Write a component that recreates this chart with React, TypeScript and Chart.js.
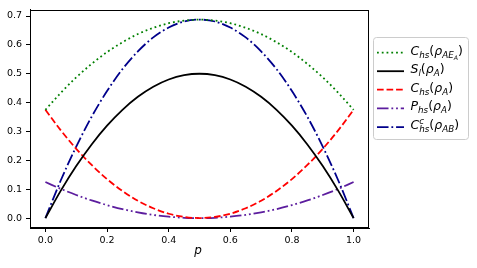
import { useEffect, useRef } from "react";
import { Chart, registerables } from "chart.js";

Chart.register(...registerables);

const pValues = [0, 0.05, 0.1, 0.15, 0.2, 0.25, 0.3, 0.35, 0.4, 0.45, 0.5, 0.55, 0.6, 0.65, 0.7, 0.75, 0.8, 0.85, 0.9, 0.95, 1.0];
const chsAEA = [0.375, 0.434, 0.4875, 0.534, 0.575, 0.609, 0.6375, 0.659, 0.675, 0.684, 0.6875, 0.684, 0.675, 0.659, 0.6375, 0.609, 0.575, 0.534, 0.4875, 0.434, 0.375];
const slA = [0, 0.095, 0.18, 0.255, 0.32, 0.375, 0.42, 0.455, 0.48, 0.495, 0.5, 0.495, 0.48, 0.455, 0.42, 0.375, 0.32, 0.255, 0.18, 0.095, 0];
const chsA = [0.375, 0.304, 0.24, 0.184, 0.135, 0.094, 0.06, 0.034, 0.015, 0.004, 0, 0.004, 0.015, 0.034, 0.06, 0.094, 0.135, 0.184, 0.24, 0.304, 0.375];
const phsA = [0.125, 0.101, 0.08, 0.061, 0.045, 0.031, 0.02, 0.011, 0.005, 0.001, 0, 0.001, 0.005, 0.011, 0.02, 0.031, 0.045, 0.061, 0.08, 0.101, 0.125];
const chscAB = [0, 0.131, 0.2475, 0.351, 0.44, 0.516, 0.5775, 0.626, 0.66, 0.681, 0.6875, 0.681, 0.66, 0.626, 0.5775, 0.516, 0.44, 0.351, 0.2475, 0.131, 0];
const xTicks = [0, 0.2, 0.4, 0.6, 0.8, 1.0];
const yTicks = [0, 0.1, 0.2, 0.3, 0.4, 0.5, 0.6, 0.7];
const xLabel = "p";

type Part = { t: string; size: number; dy: number; italic: boolean; noAdvance?: boolean };
const FONT = "'DejaVu Sans', sans-serif";
const M = 12.5;
const S = 8.75;
const SS = 6.2;
const SUB = 3;
const SUBSUB = 5;

const legendLabels: Part[][] = [
  [
    { t: "C", size: M, dy: 0, italic: true },
    { t: "hs", size: S, dy: SUB, italic: true },
    { t: "(", size: M, dy: 0, italic: false },
    { t: "ρ", size: M, dy: 0, italic: true },
    { t: "AE", size: S, dy: SUB, italic: true },
    { t: "A", size: SS, dy: SUBSUB, italic: true },
    { t: ")", size: M, dy: 0, italic: false },
  ],
  [
    { t: "S", size: M, dy: 0, italic: true },
    { t: "l", size: S, dy: SUB, italic: true },
    { t: "(", size: M, dy: 0, italic: false },
    { t: "ρ", size: M, dy: 0, italic: true },
    { t: "A", size: S, dy: SUB, italic: true },
    { t: ")", size: M, dy: 0, italic: false },
  ],
  [
    { t: "C", size: M, dy: 0, italic: true },
    { t: "hs", size: S, dy: SUB, italic: true },
    { t: "(", size: M, dy: 0, italic: false },
    { t: "ρ", size: M, dy: 0, italic: true },
    { t: "A", size: S, dy: SUB, italic: true },
    { t: ")", size: M, dy: 0, italic: false },
  ],
  [
    { t: "P", size: M, dy: 0, italic: true },
    { t: "hs", size: S, dy: SUB, italic: true },
    { t: "(", size: M, dy: 0, italic: false },
    { t: "ρ", size: M, dy: 0, italic: true },
    { t: "A", size: S, dy: SUB, italic: true },
    { t: ")", size: M, dy: 0, italic: false },
  ],
  [
    { t: "C", size: M, dy: 0, italic: true },
    { t: "c", size: S, dy: -5, italic: true, noAdvance: true },
    { t: "hs", size: S, dy: SUB, italic: true },
    { t: "(", size: M, dy: 0, italic: false },
    { t: "ρ", size: M, dy: 0, italic: true },
    { t: "AB", size: S, dy: SUB, italic: true },
    { t: ")", size: M, dy: 0, italic: false },
  ],
];

const LW = 1.8;
const seriesStyles = [
  { color: "#008000", dash: [1 * LW, 1.65 * LW] },
  { color: "#000000", dash: [] as number[] },
  { color: "#ff0000", dash: [3.7 * LW, 1.6 * LW] },
  { color: "#5c1d9e", dash: [6.4 * LW, 1.6 * LW, 1 * LW, 1.6 * LW, 1 * LW, 1.6 * LW] },
  { color: "#00008b", dash: [6.4 * LW, 1.6 * LW, 1 * LW, 1.6 * LW] },
];

const seriesData = [chsAEA, slA, chsA, phsA, chscAB];

const framePlugin = {
  id: "frameAndLegend",
  afterDraw(chart: any) {
    const ctx = chart.ctx as CanvasRenderingContext2D;
    const a = chart.chartArea;
    ctx.save();
    ctx.strokeStyle = "#000";
    ctx.lineWidth = 1;
    ctx.setLineDash([]);
    ctx.strokeRect(Math.round(a.left) + 0.5, Math.round(a.top) + 0.5, Math.round(a.right - a.left) - 1, Math.round(a.bottom - a.top) - 1);

    // x axis title
    ctx.fillStyle = "#000";
    ctx.font = `italic 12px ${FONT}`;
    ctx.textAlign = "center";
    ctx.textBaseline = "alphabetic";
    ctx.fillText(xLabel, 198, 254);

    // legend box
    const bx = 373.5, by = 37.5, bw = 95, bh = 102, r = 3;
    ctx.beginPath();
    ctx.moveTo(bx + r, by);
    ctx.lineTo(bx + bw - r, by);
    ctx.arcTo(bx + bw, by, bx + bw, by + r, r);
    ctx.lineTo(bx + bw, by + bh - r);
    ctx.arcTo(bx + bw, by + bh, bx + bw - r, by + bh, r);
    ctx.lineTo(bx + r, by + bh);
    ctx.arcTo(bx, by + bh, bx, by + bh - r, r);
    ctx.lineTo(bx, by + r);
    ctx.arcTo(bx, by, bx + r, by, r);
    ctx.closePath();
    ctx.fillStyle = "rgba(255,255,255,0.8)";
    ctx.fill();
    ctx.strokeStyle = "#cccccc";
    ctx.lineWidth = 1;
    ctx.stroke();

    const rowY = [52.7, 71.2, 89.7, 108.4, 127.2];
    ctx.textAlign = "left";
    ctx.textBaseline = "alphabetic";
    for (let i = 0; i < legendLabels.length; i++) {
      const y = rowY[i];
      const st = seriesStyles[i];
      ctx.beginPath();
      ctx.strokeStyle = st.color;
      ctx.lineWidth = LW;
      ctx.setLineDash(st.dash);
      ctx.moveTo(377, y);
      ctx.lineTo(404, y);
      ctx.stroke();
      ctx.setLineDash([]);
      let x = 410.5;
      ctx.fillStyle = "#000";
      for (const p of legendLabels[i]) {
        ctx.font = `${p.italic ? "italic " : ""}${p.size}px ${FONT}`;
        ctx.fillText(p.t, x, y + 2 + p.dy);
        if (!p.noAdvance) x += ctx.measureText(p.t).width;
      }
    }
    ctx.restore();
  },
};

export default function App() {
  const ref = useRef<HTMLCanvasElement | null>(null);
  useEffect(() => {
    if (!ref.current) return;
    const chart = new Chart(ref.current, {
      type: "line",
      data: {
        datasets: seriesData.map((vals, i) => ({
          label: String(i),
          data: pValues.map((p, j) => ({ x: p, y: vals[j] })),
          borderColor: seriesStyles[i].color,
          borderDash: seriesStyles[i].dash,
          borderWidth: LW,
          pointRadius: 0,
          fill: false,
          cubicInterpolationMode: "monotone" as const,
        })),
      },
      options: {
        responsive: false,
        animation: false,
        layout: { padding: { top: 7, right: 108, left: 0, bottom: 0 } },
        plugins: { legend: { display: false }, tooltip: { enabled: false } },
        scales: {
          x: {
            type: "linear",
            min: -0.05,
            max: 1.05,
            afterBuildTicks: (s: any) => {
              s.ticks = xTicks.map((v) => ({ value: v }));
            },
            afterFit: (s: any) => {
              s.height = 40;
            },
            ticks: {
              color: "#000",
              font: { family: FONT, size: 9.5 },
              padding: 3,
              maxRotation: 0,
              callback: (v: any) => Number(v).toFixed(1),
            },
            grid: { display: true, drawOnChartArea: false, drawTicks: true, tickLength: 4, color: "#000", tickColor: "#000" },
            border: { display: true, color: "#000", width: 1 },
          },
          y: {
            type: "linear",
            min: -0.034375,
            max: 0.721875,
            afterBuildTicks: (s: any) => {
              s.ticks = yTicks.map((v) => ({ value: v }));
            },
            afterFit: (s: any) => {
              s.width = 30;
            },
            ticks: {
              color: "#000",
              font: { family: FONT, size: 9.5 },
              padding: 4,
              callback: (v: any) => Number(v).toFixed(1),
            },
            grid: { display: true, drawOnChartArea: false, drawTicks: true, tickLength: 4, color: "#000", tickColor: "#000" },
            border: { display: true, color: "#000", width: 1 },
          },
        },
      },
      plugins: [framePlugin],
    });
    return () => chart.destroy();
  }, []);
  return (
    <div style={{ position: "absolute", left: 0, top: 0, width: 477, height: 268, background: "#fff" }}>
      <canvas ref={ref} width={477} height={268} />
    </div>
  );
}
